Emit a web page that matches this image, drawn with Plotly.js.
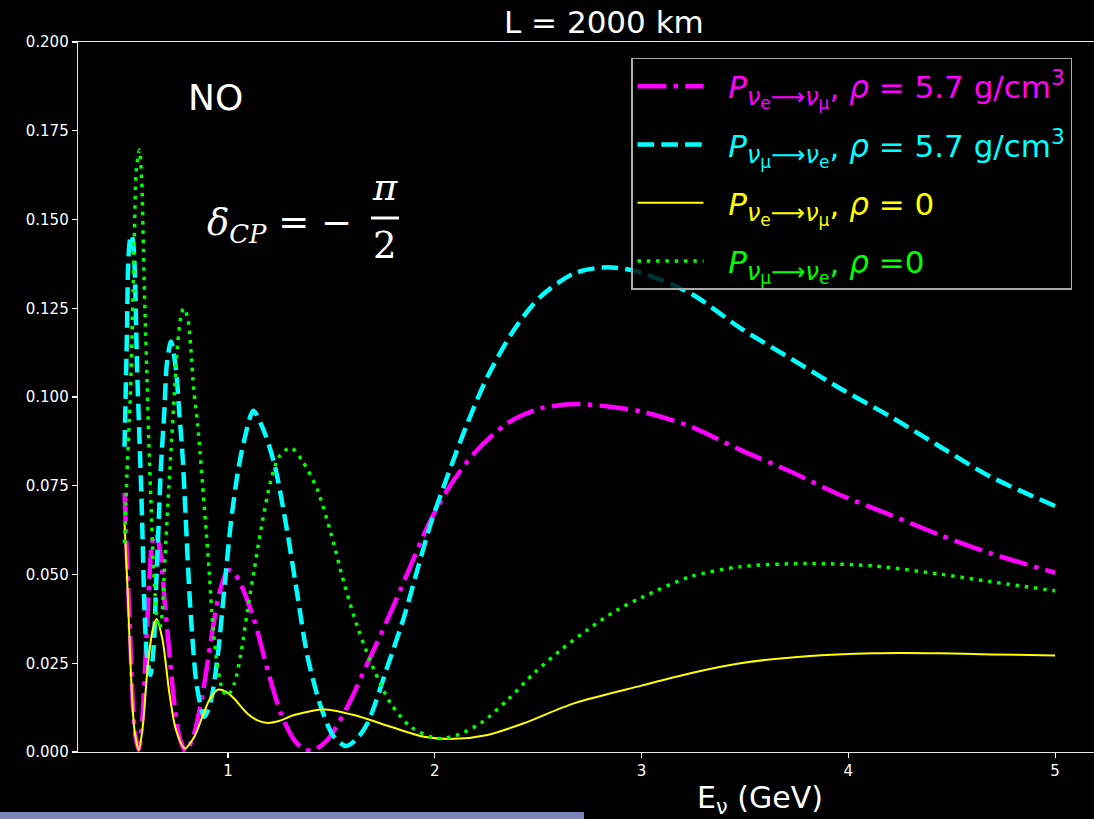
<!DOCTYPE html>
<html>
<head>
<meta charset="utf-8">
<script src="https://cdn.plot.ly/plotly-3.0.1.min.js"></script>
<style>html,body{margin:0;padding:0;background:#000;}#chart{width:1094px;height:819px;}</style>
</head>
<body>
<div id="chart"></div>
<script>
// P(nu_e -> nu_mu), rho = 5.7 g/cm^3
const E_mag = [0.5,0.515,0.528,0.539,0.551,0.568,0.588,0.604,0.620,0.636,0.652,0.673,0.692,0.717,0.741,0.765,0.797,0.837,0.878,0.918,0.958,1.0,1.03,1.063,1.127,1.192,1.256,1.320,1.365,1.409,1.481,1.578,1.675,1.771,1.868,1.965,2.061,2.190,2.351,2.512,2.689,2.866,3.0,3.237,3.478,3.720,3.961,4.203,4.444,4.686,5.0];
const P_mag = [0.073,0.0503,0.0315,0.0146,0.0053,0.0006,0.0109,0.0297,0.0485,0.0597,0.0616,0.056,0.0438,0.0278,0.0137,0.0043,0.0002,0.0053,0.0165,0.0315,0.0447,0.0512,0.0505,0.0472,0.0372,0.0231,0.0109,0.0034,0.0009,0.0004,0.0034,0.0128,0.025,0.0372,0.0503,0.0635,0.0738,0.0841,0.0926,0.0968,0.098,0.0971,0.0959,0.0917,0.0851,0.079,0.0724,0.0668,0.0611,0.056,0.0505];

// P(nu_mu -> nu_e), rho = 5.7 g/cm^3
const E_cyan = [0.5,0.512,0.518,0.527,0.535,0.544,0.551,0.560,0.570,0.579,0.588,0.596,0.609,0.625,0.641,0.652,0.665,0.676,0.692,0.705,0.725,0.749,0.765,0.781,0.797,0.813,0.829,0.850,0.886,0.918,0.950,0.982,1.014,1.047,1.079,1.123,1.170,1.224,1.288,1.337,1.385,1.449,1.510,1.570,1.620,1.675,1.771,1.852,1.916,1.981,2.061,2.158,2.255,2.383,2.512,2.673,2.818,2.963,3.237,3.478,3.720,3.961,4.203,4.444,4.686,5.0];
const P_cyan = [0.086,0.119,0.1377,0.1445,0.1456,0.142,0.133,0.1095,0.092,0.077,0.059,0.041,0.0268,0.0217,0.0297,0.0456,0.0644,0.0804,0.0954,0.1095,0.1156,0.1076,0.0954,0.0832,0.0644,0.0456,0.0315,0.0184,0.0099,0.0146,0.0268,0.0456,0.0644,0.0785,0.0879,0.0961,0.091,0.0813,0.0617,0.0438,0.0269,0.0128,0.0045,0.0017,0.0035,0.0081,0.024,0.0381,0.0513,0.0644,0.0776,0.0926,0.1057,0.1189,0.1283,0.1348,0.1365,0.1356,0.1292,0.1194,0.1109,0.1024,0.0945,0.086,0.0776,0.0693];

// P(nu_e -> nu_mu), rho = 0
const E_yel = [0.5,0.515,0.531,0.548,0.569,0.588,0.612,0.636,0.655,0.684,0.717,0.749,0.792,0.837,0.880,0.915,0.953,0.990,1.031,1.063,1.095,1.140,1.192,1.250,1.320,1.465,1.610,1.787,1.948,2.093,2.255,2.431,2.673,3.0,3.237,3.478,3.800,4.122,4.444,4.686,5.0];
const P_yel = [0.0645,0.0456,0.0222,0.0062,0.0006,0.0071,0.024,0.0344,0.0375,0.0315,0.0165,0.0062,0.001,0.0042,0.0105,0.0152,0.0176,0.0170,0.0150,0.0128,0.0108,0.0090,0.0082,0.0088,0.0104,0.012,0.0104,0.0071,0.0043,0.0037,0.0048,0.0081,0.0137,0.0187,0.0222,0.025,0.027,0.0278,0.0278,0.0275,0.0272];

// P(nu_mu -> nu_e), rho = 0
const E_grn = [0.5,0.512,0.528,0.539,0.548,0.557,0.572,0.583,0.591,0.599,0.609,0.617,0.628,0.638,0.648,0.658,0.668,0.678,0.684,0.696,0.709,0.725,0.741,0.757,0.772,0.786,0.805,0.820,0.835,0.853,0.886,0.910,0.926,0.950,0.974,0.998,1.031,1.063,1.095,1.127,1.159,1.208,1.248,1.304,1.36,1.433,1.498,1.562,1.626,1.707,1.787,1.884,2.013,2.110,2.222,2.351,2.480,2.609,2.738,2.882,3.0,3.237,3.478,3.800,4.122,4.444,4.686,5.0];
const P_grn = [0.0588,0.0785,0.1001,0.1236,0.147,0.1639,0.1696,0.1611,0.1423,0.1236,0.1048,0.088,0.070,0.055,0.044,0.037,0.0348,0.037,0.0409,0.055,0.0691,0.0851,0.101,0.115,0.1225,0.125,0.1225,0.114,0.102,0.0926,0.069,0.0503,0.0362,0.024,0.0175,0.0158,0.0193,0.0278,0.04,0.0513,0.0625,0.0766,0.0832,0.0857,0.082,0.0738,0.0616,0.0475,0.0353,0.0231,0.0137,0.0071,0.0038,0.0048,0.0081,0.0146,0.0222,0.0287,0.0344,0.04,0.0435,0.0494,0.0522,0.0531,0.0524,0.0501,0.048,0.0454];

const yTicks = [0,0.025,0.05,0.075,0.1,0.125,0.15,0.175,0.2];
const xTicks = [1,2,3,4,5];

const pad = '\u00a0\u00a0';
function sub(a, b) {
  return '<sub><span style="font-size:24px"><i>ν</i></span><sub><span style="font-size:17px">' + a + '</span></sub>' +
         '<span style="font-size:24px">⟶<i>ν</i></span><sub><span style="font-size:17px">' + b + '</span></sub></sub>';
}
const names = [
  '<span style="color:#ff00ff">' + pad + '<i>P</i>' + sub('e','μ') + ', <i>ρ</i> = 5.7 g/cm<sup>3</sup></span>',
  '<span style="color:#00ffff">' + pad + '<i>P</i>' + sub('μ','e') + ', <i>ρ</i> = 5.7 g/cm<sup>3</sup></span>',
  '<span style="color:#ffff00">' + pad + '<i>P</i>' + sub('e','μ') + ', <i>ρ</i> = 0</span>',
  '<span style="color:#00ff00">' + pad + '<i>P</i>' + sub('μ','e') + ', <i>ρ</i> =0</span>'
];

const sm = 0.8;
const traces = [
  {x:E_mag, y:P_mag, name:names[0], legendgroup:'a', mode:'lines', line:{color:'#ff00ff', width:4.5, dash:'28.8px,7.2px,4.5px,7.2px', shape:'spline', smoothing:sm}},
  {x:E_cyan, y:P_cyan, name:names[1], legendgroup:'b', mode:'lines', line:{color:'#00ffff', width:4.5, dash:'16.6px,7.2px', shape:'spline', smoothing:sm}},
  {x:E_yel, y:P_yel, name:names[2], legendgroup:'c', mode:'lines', line:{color:'#ffff00', width:2, shape:'spline', smoothing:sm}},
  {x:E_grn, y:P_grn, name:names[3], legendgroup:'d', mode:'lines', line:{color:'#00ff00', width:3.5, dash:'3.5px,5.8px', shape:'spline', smoothing:sm}}
];

const axisFont = {family:'DejaVu Sans', size:15, color:'#ffffff'};
const layout = {
  width:1094, height:819,
  margin:{l:78, r:0, t:42, b:67, pad:0},
  paper_bgcolor:'#000000', plot_bgcolor:'#000000',
  showlegend:true,
  title:{text:'L = 2000 km', font:{family:'DejaVu Sans', size:31, color:'#ffffff'}, xref:'container', yref:'container', x:0.552, y:0.973, xanchor:'center', yanchor:'middle'},
  xaxis:{range:[0.275,5.188], tickvals:xTicks, ticktext:xTicks.map(String), ticks:'outside', ticklen:5, tickwidth:1.2, tickcolor:'#ffffff', showline:true, linecolor:'#e6e6e6', linewidth:1.3, mirror:true, showgrid:false, zeroline:false, tickfont:axisFont},
  yaxis:{range:[0,0.2], tickvals:yTicks, ticktext:yTicks.map(v=>v.toFixed(3)), ticks:'outside', ticklen:5, tickwidth:1.2, tickcolor:'#ffffff', showline:true, linecolor:'#e6e6e6', linewidth:1.3, showgrid:false, zeroline:false, tickfont:axisFont},
  legend:{x:0.5443, y:0.9775, xanchor:'left', yanchor:'top', bgcolor:'rgba(0,0,0,0.8)', bordercolor:'#aaaaaa', borderwidth:1.5, font:{family:'DejaVu Sans', size:31, color:'#ffffff'}, itemwidth:66, tracegroupgap:15},
  annotations:[
    {xref:'paper', yref:'paper', x:0.1358, y:0.9225, text:'NO', showarrow:false, xanchor:'center', yanchor:'middle', font:{family:'DejaVu Sans', size:36, color:'#ffffff'}},
    {xref:'paper', yref:'paper', x:0.2717, y:0.742, text:'<i>δ</i><sub><i>CP</i></sub> = −', showarrow:false, xanchor:'right', yanchor:'middle', font:{family:'DejaVu Serif', size:37, color:'#ffffff'}},
    {xref:'paper', yref:'paper', x:0.3022, y:0.7944, text:'<i>π</i>', showarrow:false, xanchor:'center', yanchor:'middle', font:{family:'DejaVu Serif', size:37, color:'#ffffff'}},
    {xref:'paper', yref:'paper', x:0.3022, y:0.7127, text:'2', showarrow:false, xanchor:'center', yanchor:'middle', font:{family:'DejaVu Serif', size:37, color:'#ffffff'}},
    {xref:'paper', yref:'paper', x:0.6713, y:-0.0676, text:'E<sub>ν</sub> (GeV)', showarrow:false, xanchor:'center', yanchor:'middle', font:{family:'DejaVu Sans', size:30, color:'#ffffff'}}
  ],
  shapes:[
    {type:'line', xref:'paper', yref:'paper', x0:0.2884, x1:0.3159, y0:0.7521, y1:0.7521, line:{color:'#ffffff', width:3}},
    {type:'rect', xref:'paper', yref:'paper', x0:-0.0768, x1:0.498, y0:-0.0845, y1:-0.0944, fillcolor:'#7b86ba', line:{width:0}, layer:'above'}
  ]
};

Plotly.newPlot('chart', traces, layout, {displayModeBar:false, staticPlot:true});
</script>
</body>
</html>
